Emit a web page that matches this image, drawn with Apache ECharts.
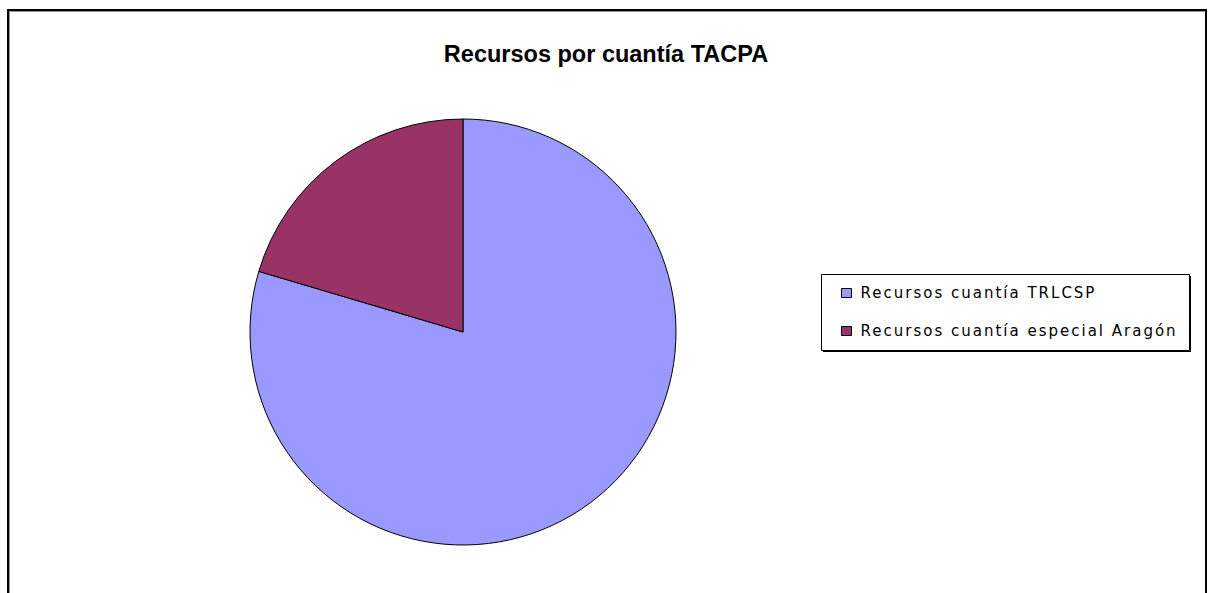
<!DOCTYPE html>
<html>
<head>
<meta charset="utf-8">
<script src="https://cdn.jsdelivr.net/npm/echarts@6/dist/echarts.min.js"></script>
<style>
html,body{margin:0;padding:0;background:#fff}
#c{width:1208px;height:593px}
#c text[style*="15px"]{letter-spacing:2px}
</style>
</head>
<body>
<div id="c"></div>
<script>
const titleText = 'Recursos por cuantía TACPA';
const categories = ['Recursos cuantía TRLCSP', 'Recursos cuantía especial Aragón'];
const values = [39, 10];
const colors = ['#9999FF', '#993366'];

const chart = echarts.init(document.getElementById('c'), null, {renderer: 'svg'});
chart.setOption({
  backgroundColor: '#ffffff',
  animation: false,
  title: {
    text: titleText,
    left: 601, textAlign: 'center',
    top: 37,
    textStyle: {fontFamily: 'Liberation Sans', fontWeight: 'bold', fontSize: 23.5, color: '#000'}
  },
  graphic: [
    {type: 'rect', shape: {x: 8, y: 10, width: 1198, height: 600}, style: {fill: 'none', stroke: '#000', lineWidth: 2}, z: 100},
    {type: 'line', shape: {x1: 9.5, y1: 11, x2: 9.5, y2: 593}, style: {stroke: '#999', lineWidth: 1}, z: 100},
    {type: 'line', shape: {x1: 9, y1: 11.5, x2: 1205, y2: 11.5}, style: {stroke: '#999', lineWidth: 1}, z: 100},
    {type: 'rect', shape: {x: 821.5, y: 274.5, width: 368, height: 76}, style: {fill: '#fff', stroke: '#000', lineWidth: 1}, z: 1},
    {type: 'line', shape: {x1: 1190.5, y1: 276, x2: 1190.5, y2: 352}, style: {stroke: '#000', lineWidth: 1}, z: 1},
    {type: 'line', shape: {x1: 823, y1: 351.5, x2: 1191, y2: 351.5}, style: {stroke: '#000', lineWidth: 1}, z: 1}
  ],
  legend: {
    orient: 'vertical',
    left: 841, top: 283,
    padding: 0,
    itemWidth: 10, itemHeight: 9,
    itemGap: 18,
    icon: 'rect',
    itemStyle: {borderColor: '#000', borderWidth: 1},
    textStyle: {fontFamily: 'DejaVu Sans', fontSize: 15, lineHeight: 20, color: '#000', padding: [0, 0, 0, 4]},
    data: categories,
    z: 10
  },
  series: [{
    type: 'pie',
    center: [463, 332],
    radius: 213,
    startAngle: 90,
    clockwise: true,
    label: {show: false},
    labelLine: {show: false},
    silent: true,
    itemStyle: {borderColor: '#000', borderWidth: 1},
    data: categories.map((n, i) => ({name: n, value: values[i], itemStyle: {color: colors[i]}}))
  }]
});
</script>
</body>
</html>
